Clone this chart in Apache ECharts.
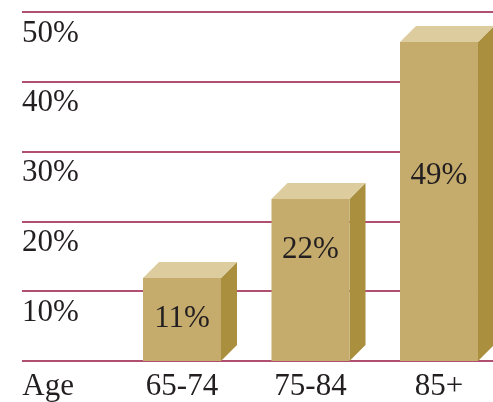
<!DOCTYPE html>
<html>
<head>
<meta charset="utf-8">
<script src="https://cdn.jsdelivr.net/npm/echarts@6/dist/echarts.min.js"></script>
<style>html,body{margin:0;padding:0;background:#fff}#c{width:493px;height:402px}</style>
</head>
<body>
<div id="c"></div>
<script>
// Data
const categories = ['65-74', '75-84', '85+'];
const axisTitle = 'Age';
const barHeights = [11.9, 23.2, 45.7];   // drawn heights as they appear in the picture
const shownLabels = [11, 22, 49];        // printed percentages
const yTicks = [0, 10, 20, 30, 40, 50];

// Layout / style constants
const labelDrop = [41, 51, 134];
const FONT = '"Liberation Serif", "Times New Roman", serif';
const FS = 31;
const GRID_COLOR = '#961540';
const FRONT = '#C5AC6D', TOP = '#DDCC9E', SIDE = '#A98F3E';
const DEPTH = 16;

const chart = echarts.init(document.getElementById('c'));
chart.setOption({
  animation: false,
  grid: [
    {left: 22, width: 471, top: 12, bottom: 41},
    {left: 182, width: 257, top: 12, bottom: 41}
  ],
  xAxis: [
    {gridIndex: 0, type: 'category', data: [''], show: false},
    {gridIndex: 1, type: 'category', data: categories, boundaryGap: false,
     axisLine: {show: false}, axisTick: {show: false},
     name: axisTitle, nameLocation: 'start', nameGap: 108,
     nameTextStyle: {fontFamily: FONT, fontSize: FS, color: '#231F20', verticalAlign: 'top', lineHeight: FS, padding: [10, 0, 0, 0]},
     axisLabel: {fontFamily: FONT, fontSize: FS, color: '#231F20', margin: 10, lineHeight: FS}}
  ],
  yAxis: [
    {gridIndex: 0, type: 'value', min: yTicks[0], max: yTicks[yTicks.length - 1], interval: 10,
     axisLine: {show: false}, axisTick: {show: false},
     splitLine: {show: true, lineStyle: {color: GRID_COLOR, width: 1.6}},
     axisLabel: {inside: true, margin: 0, fontFamily: FONT, fontSize: FS, color: '#231F20',
       verticalAlign: 'top', lineHeight: FS, padding: [6, 0, 0, 0],
       formatter: v => v === 0 ? '' : v + '%'}},
    {gridIndex: 1, type: 'value', min: yTicks[0], max: yTicks[yTicks.length - 1], show: false, splitLine: {show: false}}
  ],
  series: [{
    type: 'custom',
    xAxisIndex: 1, yAxisIndex: 1,
    data: categories.map((c, i) => [i, barHeights[i]]),
    encode: {x: 0, y: 1},
    clip: false,
    renderItem: function (params, api) {
      const i = params.dataIndex;
      const top = api.coord([api.value(0), api.value(1)]);
      const base = api.coord([api.value(0), 0]);
      const band = api.size([1, 0])[0];
      const w = band * 0.607;
      const xl = top[0] - w / 2, xr = xl + w;
      const yt = top[1], yb = base[1];
      const d = DEPTH;
      return {
        type: 'group',
        children: [
          {type: 'polygon', shape: {points: [[xr, yt], [xr + d, yt - d], [xr + d, yb - d], [xr, yb]]}, style: {fill: SIDE}},
          {type: 'polygon', shape: {points: [[xl, yt], [xl + d, yt - d], [xr + d, yt - d], [xr, yt]]}, style: {fill: TOP}},
          {type: 'rect', shape: {x: xl, y: yt, width: w, height: yb - yt}, style: {fill: FRONT}},
          {type: 'text', x: top[0], y: yt + labelDrop[i],
           style: {text: shownLabels[i] + '%', align: 'center', verticalAlign: 'middle',
                   fontSize: FS, fontFamily: FONT, fill: '#231F20'}}
        ]
      };
    }
  }]
});
</script>
</body>
</html>
